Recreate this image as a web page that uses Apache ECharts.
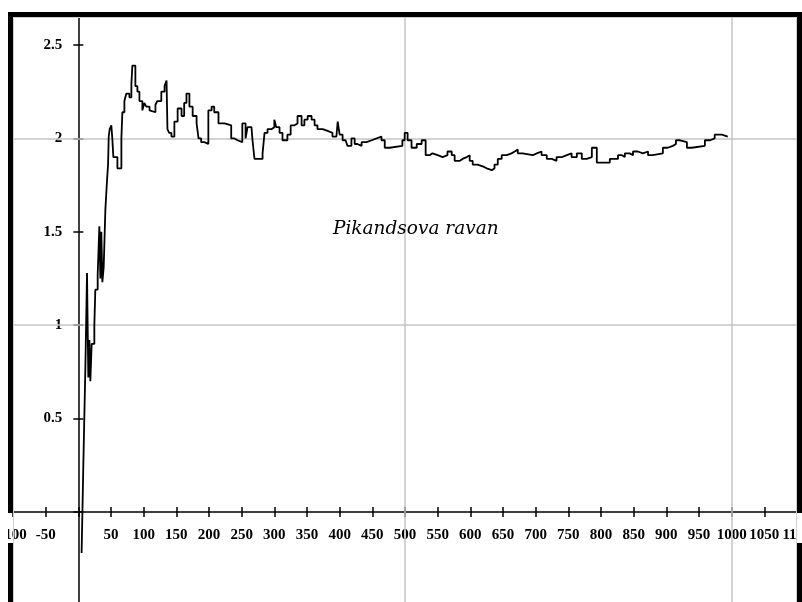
<!DOCTYPE html>
<html>
<head>
<meta charset="utf-8">
<script src="https://cdn.jsdelivr.net/npm/echarts@6/dist/echarts.min.js"></script>
<style>
html,body{margin:0;padding:0;background:#fff;}
#chart{width:802px;height:602px;}
</style>
</head>
<body>
<div id="chart"></div>
<script>
// x positions (where the value changes) and step values
var stepX = [5,7.7,10.7,13.3,14.3,15.3,16.9,18.4,20.4,24.5,26,29.6,32.2,33.7,35.2,36.8,38.8,41.4,44,45.5,46.5,48,50.5,52,53.6,59.8,65.9,67.4,70.5,73.5,78.1,81.2,82.7,87.3,90.4,93.5,98,101,104,109,112,118,121,127,132,135,136.4,139,142.5,147,152,158,162,165.5,170,175,181,184,188,193,199,204,208,214.5,224,234,239,243.6,251,256,259,265,266.6,269.6,282,285,289.6,296,300,303,308,312.5,320,325,331,335.5,341.7,346,351,357,361.6,366,374,381.5,389,395,397,400,404.5,409,412,418,423,427,433.6,441,449,456.6,464,469,476.5,496,499.5,504,510,518,525.5,531.6,537.8,542,550,557.7,565,571.5,576,584,588,594.5,599,603.6,611,619,625,632.8,637,642,648,655.7,663,668,672.6,680,695.6,701.7,709,717,724.7,732,740,747.7,755,763,770.6,778,786,793.6,813.5,826,832,836.5,844,849,856.4,864,872,879,894.7,902,910,914.7,921,931.5,939,959,967,974,979,985,994];
var stepY = [-0.22,0.26,0.76,1.28,0.99,0.72,0.92,0.70,0.9,1.0,1.19,1.27,1.53,1.25,1.5,1.23,1.31,1.62,1.78,1.86,2.01,2.05,2.07,2.0,1.90,1.84,2.0,2.14,2.2,2.24,2.22,2.29,2.39,2.28,2.25,2.2,2.15,2.19,2.17,2.15,2.14,2.18,2.2,2.25,2.28,2.31,2.05,2.03,2.01,2.09,2.16,2.12,2.19,2.24,2.17,2.12,2.08,2.0,1.98,1.97,2.15,2.17,2.14,2.08,2.07,2.0,1.99,1.98,2.08,2.0,2.06,2.07,1.99,1.89,1.92,2.03,2.05,2.06,2.10,2.06,2.03,1.99,2.02,2.07,2.08,2.12,2.07,2.10,2.12,2.10,2.07,2.05,2.04,2.03,2.01,2.0,2.09,2.02,1.99,1.98,1.96,2.0,1.97,1.96,1.98,1.99,2.0,2.01,1.99,1.95,1.96,1.99,2.03,1.99,1.95,1.97,1.99,1.91,1.92,1.91,1.90,1.91,1.93,1.91,1.88,1.89,1.90,1.91,1.88,1.86,1.85,1.84,1.83,1.84,1.86,1.89,1.91,1.92,1.93,1.94,1.92,1.91,1.92,1.93,1.91,1.89,1.88,1.90,1.91,1.92,1.90,1.92,1.89,1.90,1.95,1.87,1.89,1.91,1.90,1.92,1.91,1.93,1.92,1.93,1.91,1.92,1.95,1.96,1.97,1.99,1.98,1.95,1.96,1.99,2.0,2.02,2.02,2.01,2.01];
var gridY = [1, 2];
var gridX = [500, 1000];
var chartText = 'Pikandsova ravan';

var seriesData = stepX.map(function (x, i) { return [x, stepY[i]]; });

var labelFont = 'Liberation Serif';
var textFont = 'DejaVu Serif';
function xLabel(v) { return v === 0 ? '' : String(v); }
function yLabel(v) { return (v <= 0 || v > 2.6) ? '' : String(v); }

// layout: plot box in pixels and the axis ranges
var G = { left: 13, right: 5, top: -48.4, bottom: -3.4, w: 802, h: 602 };
var X_MIN = -100, X_MAX = 1100, Y_MIN = -0.5, Y_MAX = 3;
var gridW = G.w - G.left - G.right, gridH = G.h - G.top - G.bottom;
var yAxisOffset = -gridW * (0 - X_MIN) / (X_MAX - X_MIN);   // moves y axis to x = 0
var xAxisOffset = -gridH * (0 - Y_MIN) / (Y_MAX - Y_MIN);   // moves x axis to y = 0
var TICK = 5;

var axisLineStyle = { color: '#000', width: 1.5 };
var tickStyle = { color: '#000', width: 1.5 };

var chart = echarts.init(document.getElementById('chart'), null, { renderer: 'canvas' });
chart.setOption({
  animation: false,
  backgroundColor: '#fff',
  grid: { left: G.left, right: G.right, top: G.top, bottom: G.bottom, containLabel: false, outerBoundsMode: 'none' },
  xAxis: [
    {
      type: 'value', min: X_MIN, max: X_MAX, interval: 50, position: 'bottom', offset: xAxisOffset,
      axisLine: { show: true, onZero: false, lineStyle: axisLineStyle },
      axisTick: { show: false },
      axisLabel: { show: true, formatter: xLabel, margin: 16, showMinLabel: true, showMaxLabel: true, hideOverlap: false,
        color: '#000', fontFamily: labelFont, fontSize: 15, fontWeight: 'bold' },
      splitLine: { show: false }
    },
    {
      // crossing ticks: an unlabelled copy shifted up by one tick length, ticks twice as long
      type: 'value', min: X_MIN, max: X_MAX, interval: 50, position: 'bottom', offset: xAxisOffset - TICK,
      axisLine: { show: false, onZero: false },
      axisTick: { show: true, length: 2 * TICK, lineStyle: tickStyle },
      axisLabel: { show: false },
      splitLine: { show: false }
    }
  ],
  yAxis: [
    {
      type: 'value', min: Y_MIN, max: Y_MAX, interval: 0.5, position: 'left', offset: yAxisOffset,
      axisLine: { show: true, onZero: false, lineStyle: axisLineStyle },
      axisTick: { show: false },
      axisLabel: { show: true, formatter: yLabel, margin: 16, color: '#000', fontFamily: labelFont, fontSize: 15, fontWeight: 'bold' },
      splitLine: { show: false }
    },
    {
      type: 'value', min: Y_MIN, max: Y_MAX, interval: 0.5, position: 'left', offset: yAxisOffset - TICK,
      axisLine: { show: false, onZero: false },
      axisTick: { show: true, length: 2 * TICK, lineStyle: tickStyle },
      axisLabel: { show: false },
      splitLine: { show: false }
    }
  ],
  series: [
    {
      type: 'line', xAxisIndex: 0, yAxisIndex: 0, z: 1,
      data: seriesData, showSymbol: false, symbol: 'none', silent: true,
      lineStyle: { opacity: 0, width: 0 },
      markLine: {
        silent: true, symbol: 'none', animation: false,
        label: { show: false },
        lineStyle: { color: '#c4c4c4', width: 1.5, type: 'solid' },
        data: gridY.map(function (v) { return { yAxis: v }; }).concat(gridX.map(function (v) { return { xAxis: v }; }))
      }
    },
    {
      type: 'line', xAxisIndex: 0, yAxisIndex: 0, z: 5,
      data: seriesData, step: 'end', showSymbol: false, symbol: 'none', silent: true,
      lineStyle: { color: '#000', width: 1.8 }
    }
  ],
  graphic: [
    { type: 'rect', z: 1, silent: true, shape: { x: 13.5, y: 17.5, width: 783, height: 590 }, style: { fill: 'none', stroke: '#d0d0d0', lineWidth: 1 } },
    { type: 'text', z: 50, left: 333, top: 220, silent: true, style: { text: chartText, fontFamily: textFont, fontStyle: 'italic', fontSize: 18.5, fill: '#000' } },
    { type: 'rect', z: 100, silent: true, shape: { x: 0, y: 0, width: 802, height: 12 }, style: { fill: '#fff' } },
    { type: 'rect', z: 100, silent: true, shape: { x: 0, y: 0, width: 8, height: 602 }, style: { fill: '#fff' } },
    { type: 'rect', z: 100, silent: true, shape: { x: 797, y: 513, width: 5, height: 30 }, style: { fill: '#fff' } },
    { type: 'rect', z: 101, silent: true, shape: { x: 8, y: 12, width: 794, height: 5 }, style: { fill: '#000' } },
    { type: 'rect', z: 101, silent: true, shape: { x: 8, y: 12, width: 5, height: 501 }, style: { fill: '#000' } },
    { type: 'rect', z: 101, silent: true, shape: { x: 8, y: 543, width: 5, height: 59 }, style: { fill: '#000' } },
    { type: 'rect', z: 101, silent: true, shape: { x: 797, y: 12, width: 5, height: 501 }, style: { fill: '#000' } },
    { type: 'rect', z: 101, silent: true, shape: { x: 797, y: 543, width: 5, height: 59 }, style: { fill: '#000' } }
  ]
});
</script>
</body>
</html>
